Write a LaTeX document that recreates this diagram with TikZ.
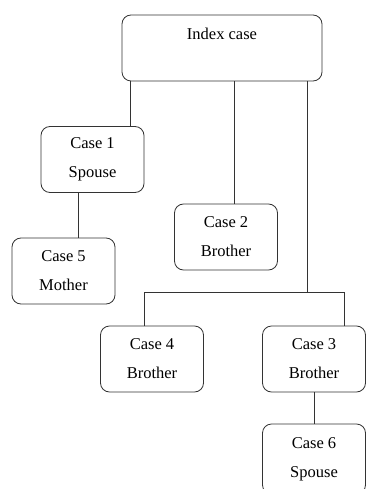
\documentclass[tikz,border=0pt]{standalone}
\usepackage{fontspec}
\setmainfont{Liberation Serif}
\begin{document}
\begin{tikzpicture}[x=1pt,y=-1pt,
  casebox/.style={draw=black!80, line width=0.8pt, rounded corners=9pt, align=center,
    minimum width=103pt, minimum height=66pt, inner sep=0pt,
    font=\fontsize{16.5}{29}\selectfont},
  link/.style={draw=black!80, line width=0.8pt}]
\useasboundingbox (0,0) rectangle (366,489);
\node[casebox, minimum width=200pt] (idx) at (222,48) {Index case\\\mbox{}};
\node[casebox] (c1) at (92.5,159.5) {Case 1\\Spouse};
\node[casebox] (c5) at (63.5,271) {Case 5\\Mother};
\node[casebox] (c2) at (226,237) {Case 2\\Brother};
\node[casebox] (c4) at (152,359) {Case 4\\Brother};
\node[casebox] (c3) at (314,359) {Case 3\\Brother};
\node[casebox, minimum height=70pt] (c6) at (314,459) {Case 6\\Spouse};
\coordinate (x1) at (130,0);
\coordinate (x2) at (234,0);
\coordinate (x3) at (307,0);
\coordinate (x5) at (78,0);
\coordinate (jn) at (307,292);
\coordinate (jl) at (144,292);
\coordinate (jr) at (344,292);
\draw[link] (idx.south -| x1) -- (c1.north -| x1);
\draw[link] (idx.south -| x2) -- (c2.north -| x2);
\draw[link] (idx.south -| x3) -- (jn);
\draw[link] (c4.north -| jl) -- (jl) -- (jr) -- (c3.north -| jr);
\draw[link] (c1.south -| x5) -- (c5.north -| x5);
\draw[link] (c3.south) -- (c6.north);
\end{tikzpicture}
\end{document}
